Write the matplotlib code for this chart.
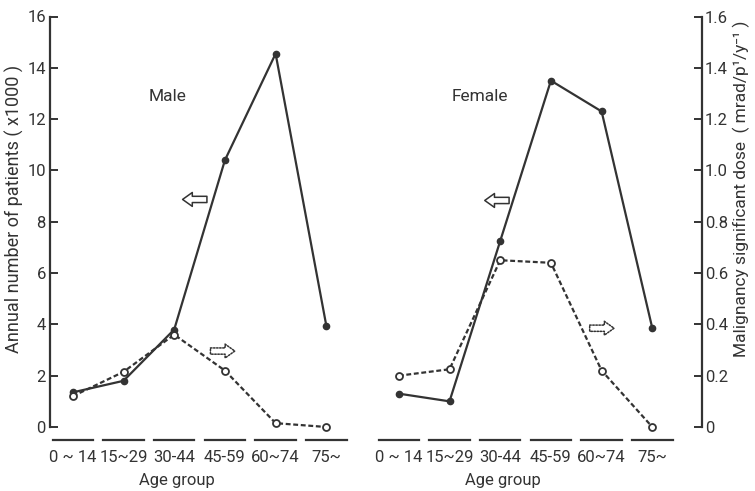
import numpy as np
import matplotlib
matplotlib.use("Agg")
import matplotlib.pyplot as plt
import matplotlib.transforms as mtransforms

# age groups (male panel / female panel)
male_groups = ['0 ~ 14', '15~29', '30-44', '45-59', '60~74', '75~']
female_groups = ['0 ~ 14', '15~29', '30-44', '45-59', '60~74', '75~']

# annual number of patients (x1000), left axis
male_patients = [1.35, 1.8, 3.8, 10.4, 14.55, 3.95]
female_patients = [1.3, 1.0, 7.25, 13.5, 12.3, 3.85]

# malignancy significant dose, right axis
male_dose = [0.12, 0.215, 0.36, 0.22, 0.015, 0.0]
female_dose = [0.2, 0.225, 0.65, 0.64, 0.22, 0.0]

ink = '#333333'
plt.rcParams['font.family'] = ['Roboto', 'DejaVu Sans']
plt.rcParams['text.color'] = ink

fig = plt.figure(figsize=(7.55, 4.91), dpi=100)
ax = fig.add_axes([50 / 755, 64 / 491, 652 / 755, 410.5 / 491])
ax2 = ax.twinx()

x_male = np.arange(len(male_groups))
x_female = np.arange(len(female_groups)) + 6.43

for a in (ax, ax2):
    a.set_xlim(-0.45, 12.41)
    a.spines['top'].set_visible(False)
    a.spines['bottom'].set_visible(False)
    a.set_xticks([])
    a.patch.set_visible(False)
ax.spines['right'].set_visible(False)
ax2.spines['left'].set_visible(False)
ax.spines['left'].set_linewidth(1.6)
ax2.spines['right'].set_linewidth(1.6)
ax.spines['left'].set_color(ink)
ax2.spines['right'].set_color(ink)

ax.set_ylim(0, 16)
ax.set_yticks(range(0, 17, 2))
ax.tick_params(axis='y', direction='in', length=6, width=1.4, color=ink,
               labelsize=12, labelcolor=ink, pad=3)
ax2.set_ylim(0, 1.6)
ax2.set_yticks(np.arange(0, 1.61, 0.2))
ax2.set_yticklabels(['0', '0.2', '0.4', '0.6', '0.8', '1.0', '1.2', '1.4', '1.6'])
ax2.tick_params(axis='y', direction='in', length=6, width=1.4, color=ink,
                labelsize=12, labelcolor=ink, pad=2)

# patients (solid, filled dots)
for xs, ys in ((x_male, male_patients), (x_female, female_patients)):
    ax.plot(xs, ys, color=ink, lw=1.6, marker='o', ms=4.5, mfc=ink, mec=ink,
            clip_on=False, zorder=3)

# dose (dashed, open circles)
for xs, ys in ((x_male, male_dose), (x_female, female_dose)):
    ax2.plot(xs, ys, color=ink, lw=1.6, ls=(0, (2.2, 1.2)), marker='o', ms=5,
             mfc='white', mec=ink, mew=1.3, clip_on=False, zorder=4)

# group labels with underline bars below the plot
trans = mtransforms.blended_transform_factory(ax.transData, ax.transAxes)
for xs, labels in ((x_male, male_groups), (x_female, female_groups)):
    for xi, lab in zip(xs, labels):
        ax.plot([xi - 0.4, xi + 0.4], [-0.032, -0.032], color=ink, lw=1.6,
                transform=trans, clip_on=False)
        ax.text(xi, -0.055, lab, transform=trans, ha='center', va='top',
                fontsize=12)
    ax.text(xs[2] + 0.05, -0.112, 'Age group', transform=trans, ha='center',
            va='top', fontsize=12)

ax.text(1.87, 12.9, 'Male', fontsize=12.5, ha='center', va='center')
ax.text(8.03, 12.9, 'Female', fontsize=12.5, ha='center', va='center')

# hollow arrows pointing to the matching axis
solid_arrow = dict(arrowstyle='simple,head_length=0.7,head_width=1.0,tail_width=0.45',
                   mutation_scale=10, fc='white', ec=ink, lw=1.1)
dotted_arrow = dict(solid_arrow, ls=(0, (1, 1)))
ax.annotate('', xy=(2.11, 8.87), xytext=(2.7, 8.87), arrowprops=solid_arrow)
ax.annotate('', xy=(8.07, 8.83), xytext=(8.66, 8.83), arrowprops=solid_arrow)
ax.annotate('', xy=(3.25, 2.96), xytext=(2.66, 2.96), arrowprops=dotted_arrow)
ax.annotate('', xy=(10.73, 3.85), xytext=(10.14, 3.85), arrowprops=dotted_arrow)

ax.set_ylabel('Annual number of patients ( x1000 )', fontsize=13, color=ink)
ax.yaxis.set_label_coords(-0.04, 0.53)
ax2.set_ylabel('Malignancy significant dose  ( mrad/p\u00b9/y\u207b\u00b9 )',
               fontsize=12.5, color=ink, rotation=90)
ax2.yaxis.set_label_coords(1.047, 0.58)

fig.savefig('out.png', dpi=100)
